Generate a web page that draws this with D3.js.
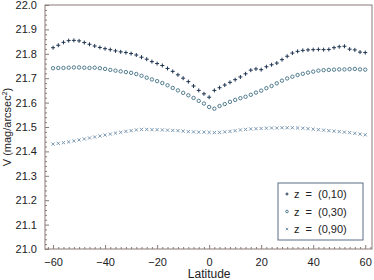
<!DOCTYPE html>
<html>
<head>
<meta charset="utf-8">
<script src="https://cdn.jsdelivr.net/npm/d3@7"></script>
<style>
  body { margin: 0; background: #fff; }
  text { font-family: "Liberation Sans", Arial, sans-serif; fill: #222; }
</style>
</head>
<body>
<div id="chart"></div>
<script>
(function () {
  "use strict";

  // latitudes, every 2 degrees
  const latitudes = d3.range(-60, 61, 2);

  const z10 = [21.825, 21.835, 21.847, 21.854, 21.855, 21.853, 21.846, 21.839, 21.832, 21.826,
    21.821, 21.817, 21.812, 21.808, 21.805, 21.801, 21.795, 21.786, 21.778, 21.768,
    21.760, 21.752, 21.740, 21.728, 21.714, 21.700, 21.686, 21.668, 21.650, 21.636,
    21.622, 21.650, 21.661, 21.672, 21.683, 21.694, 21.705, 21.718, 21.733, 21.738,
    21.735, 21.747, 21.755, 21.762, 21.776, 21.790, 21.803, 21.810, 21.814, 21.816,
    21.817, 21.818, 21.817, 21.818, 21.825, 21.829, 21.831, 21.819, 21.816, 21.807, 21.805];

  const z30 = [21.741, 21.742, 21.742, 21.743, 21.744, 21.744, 21.743, 21.742, 21.743, 21.741,
    21.738, 21.734, 21.731, 21.728, 21.725, 21.722, 21.717, 21.710, 21.702, 21.695,
    21.688, 21.680, 21.671, 21.660, 21.650, 21.640, 21.630, 21.619, 21.607, 21.596,
    21.582, 21.575, 21.586, 21.594, 21.603, 21.611, 21.618, 21.624, 21.632, 21.641,
    21.649, 21.659, 21.668, 21.679, 21.690, 21.699, 21.706, 21.713, 21.718, 21.723,
    21.727, 21.731, 21.733, 21.734, 21.735, 21.736, 21.736, 21.737, 21.738, 21.736, 21.735];

  const z90 = [21.430, 21.433, 21.436, 21.439, 21.443, 21.447, 21.451, 21.455, 21.459, 21.463,
    21.467, 21.471, 21.475, 21.478, 21.482, 21.485, 21.488, 21.490, 21.490, 21.489,
    21.489, 21.488, 21.487, 21.486, 21.485, 21.483, 21.481, 21.480, 21.479, 21.479,
    21.478, 21.477, 21.478, 21.480, 21.482, 21.485, 21.488, 21.490, 21.492, 21.493,
    21.494, 21.495, 21.496, 21.496, 21.497, 21.497, 21.497, 21.496, 21.495, 21.493,
    21.491, 21.489, 21.487, 21.485, 21.483, 21.481, 21.479, 21.477, 21.474, 21.471, 21.468];

  const seriesNames = ["z = (0,10)", "z = (0,30)", "z = (0,90)"];
  const xTicks = [-60, -40, -20, 0, 20, 40, 60];
  const yTicks = [21.0, 21.1, 21.2, 21.3, 21.4, 21.5, 21.6, 21.7, 21.8, 21.9, 22.0];

  const width = 374, height = 280;
  const margin = { top: 5, right: 2, bottom: 31, left: 45 };
  const frameColor = "#8a7a76";

  const svg = d3.select("#chart").append("svg")
    .attr("width", width)
    .attr("height", height);

  const x = d3.scaleLinear().domain([-63.1, 62.6]).range([margin.left, width - margin.right]);
  const y = d3.scaleLinear().domain([21.0, 22.0]).range([height - margin.bottom, margin.top]);

  // axes, ticks inward
  svg.append("g")
    .attr("transform", `translate(0,${height - margin.bottom})`)
    .call(d3.axisBottom(x).tickValues(xTicks).tickSize(-4).tickPadding(9)
      .tickFormat(d => d < 0 ? "\u2212" + Math.abs(d) : d));
  svg.append("g")
    .attr("transform", `translate(0,${height - margin.bottom})`)
    .call(d3.axisBottom(x).tickValues(d3.range(-62, 63, 2).filter(d => d % 20 !== 0))
      .tickSize(-2).tickFormat(""));

  svg.append("g")
    .attr("transform", `translate(${margin.left},0)`)
    .call(d3.axisLeft(y).tickValues(yTicks).tickSize(-4).tickPadding(8).tickFormat(d3.format(".1f")));
  svg.append("g")
    .attr("transform", `translate(${margin.left},0)`)
    .call(d3.axisLeft(y).tickValues(d3.range(21.02, 22.0, 0.02).filter((d, i) => (i + 1) % 5 !== 0))
      .tickSize(-2).tickFormat(""));

  svg.selectAll(".domain").remove();
  svg.selectAll(".tick line").attr("stroke", frameColor);
  svg.selectAll(".tick text").attr("font-size", 11).attr("fill", "#222");

  // frame
  svg.append("rect")
    .attr("x", margin.left)
    .attr("y", margin.top)
    .attr("width", width - margin.right - margin.left)
    .attr("height", height - margin.bottom - margin.top)
    .attr("fill", "none")
    .attr("stroke", frameColor)
    .attr("stroke-width", 1);

  // labels
  svg.append("text")
    .attr("x", x(0))
    .attr("y", 278)
    .attr("text-anchor", "middle")
    .attr("font-size", 12)
    .text("Latitude");

  const yl = svg.append("text")
    .attr("transform", `translate(11,${y(21.5)}) rotate(-90)`)
    .attr("text-anchor", "middle")
    .attr("font-size", 11);
  yl.append("tspan").text("V (mag/arcsec");
  yl.append("tspan").attr("dy", -4).attr("font-size", 7).text("2");
  yl.append("tspan").attr("dy", 4).text(")");

  // markers
  const colors = ["#1f3550", "#3f6e82", "#6f8eaa"];

  function drawPlus(g, xx, yy, c, r) {
    r = r || 2;
    g.append("path")
      .attr("d", `M${xx - r},${yy}H${xx + r}M${xx},${yy - r}V${yy + r}`)
      .attr("stroke", c).attr("stroke-width", 1).attr("fill", "none");
  }
  function drawCircle(g, xx, yy, c, r) {
    r = r || 1.7;
    g.append("circle")
      .attr("cx", xx).attr("cy", yy).attr("r", r)
      .attr("stroke", c).attr("stroke-width", 0.9).attr("fill", "none");
  }
  function drawCross(g, xx, yy, c, r) {
    r = r || 1.6;
    g.append("path")
      .attr("d", `M${xx - r},${yy - r}L${xx + r},${yy + r}M${xx - r},${yy + r}L${xx + r},${yy - r}`)
      .attr("stroke", c).attr("stroke-width", 0.9).attr("fill", "none");
  }

  const drawers = [drawPlus, drawCircle, drawCross];
  const allSeries = [z10, z30, z90];

  allSeries.forEach((vals, s) => {
    const g = svg.append("g");
    vals.forEach((v, i) => drawers[s](g, x(latitudes[i]), y(v), colors[s]));
  });

  // legend
  const lg = svg.append("g");
  lg.append("rect")
    .attr("x", 278).attr("y", 183)
    .attr("width", 85).attr("height", 57)
    .attr("fill", "#fff")
    .attr("stroke", "#5a6f86")
    .attr("stroke-width", 1);

  const legendSizes = [1.5, 1.3, 1.2];
  seriesNames.forEach((name, i) => {
    const cy = 194 + i * 17.5;
    drawers[i](lg, 287, cy, colors[i], legendSizes[i]);
    lg.append("text")
      .attr("x", 294)
      .attr("y", cy + 4)
      .attr("font-family", "'DejaVu Serif', serif")
      .attr("font-size", 11)
      .style("word-spacing", "3px")
      .text(name);
  });
})();
</script>
</body>
</html>
